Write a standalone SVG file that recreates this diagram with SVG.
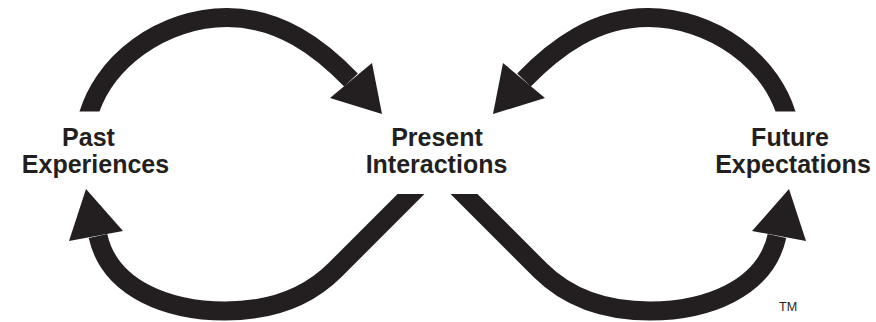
<svg xmlns="http://www.w3.org/2000/svg" width="876" height="322" viewBox="0 0 876 322">
  <style>
    .lbl { font-family: "Liberation Sans", Arial, sans-serif; font-weight: bold; font-size: 25px; fill: #231f20; text-anchor: middle; }
    .arc { fill: none; stroke: #231f20; stroke-width: 19; stroke-linecap: butt; }
    .head { fill: #231f20; }
    .tm { font-family: "Liberation Sans", Arial, sans-serif; font-size: 12.5px; fill: #231f20; }
  </style>
  <defs>
    <clipPath id="topClip"><rect x="0" y="0" width="876" height="111.5"/></clipPath>
    <clipPath id="botClip"><rect x="0" y="194" width="876" height="128"/></clipPath>
    <g id="topArrow">
      <path class="arc" clip-path="url(#topClip)" d="M86,124 C100,60 165,17.5 227,17.5 C280,17.5 320,48 351,80"/>
      <polygon class="head" points="382,114 330,98 372,63"/>
    </g>
    <g id="botArrow">
      <path class="arc" clip-path="url(#botClip)" d="M98,236 C110,290 170,311 225,311 C265,311 305,300 335,270 L418,187"/>
      <polygon class="head" points="86,189 69,241 123,231"/>
    </g>
  </defs>

  <g id="connectors">
    <use id="past-to-present" href="#topArrow"/>
    <use id="future-to-present" href="#topArrow" transform="translate(875,0) scale(-1,1)"/>
    <use id="present-to-past" href="#botArrow"/>
    <use id="present-to-future" href="#botArrow" transform="translate(875,0) scale(-1,1)"/>
  </g>

  <g id="past">
    <text class="lbl" x="88.5" y="146">Past</text>
    <text class="lbl" x="95.5" y="173">Experiences</text>
  </g>
  <g id="present">
    <text class="lbl" x="437" y="146">Present</text>
    <text class="lbl" x="436.5" y="173">Interactions</text>
  </g>
  <g id="future">
    <text class="lbl" x="790" y="146">Future</text>
    <text class="lbl" x="793" y="173">Expectations</text>
  </g>
  <text class="tm" x="779" y="311">TM</text>
</svg>
